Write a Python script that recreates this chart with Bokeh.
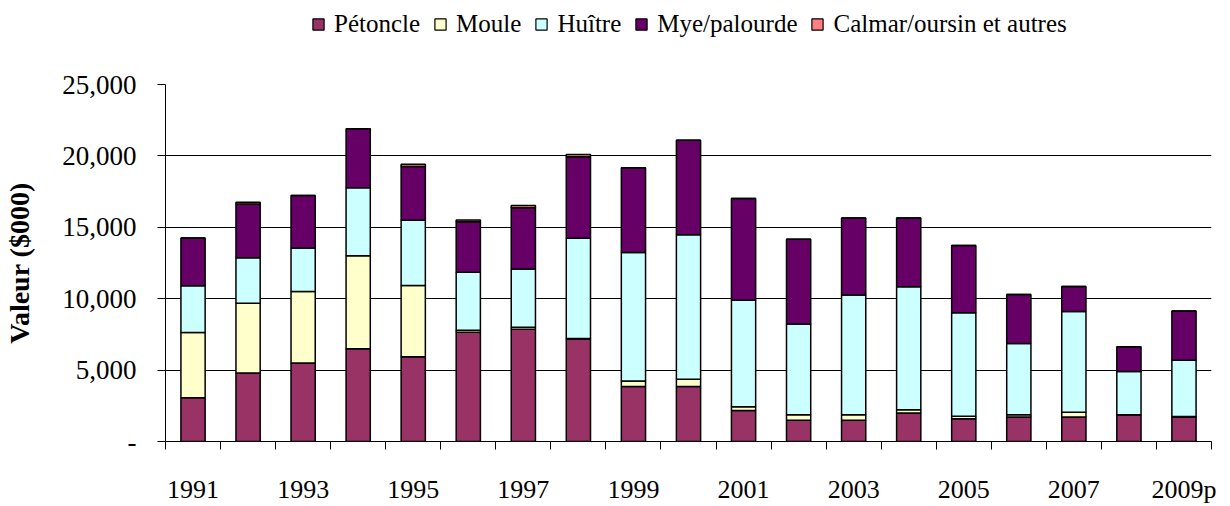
from bokeh.plotting import figure
from bokeh.layouts import column
from bokeh.models import ColumnDataSource, Legend, LegendItem, FixedTicker, NumeralTickFormatter, Range1d
from bokeh.embed import file_html
from bokeh.resources import INLINE

years = ["1991", "1992", "1993", "1994", "1995", "1996", "1997", "1998", "1999", "2000",
         "2001", "2002", "2003", "2004", "2005", "2006", "2007", "2008", "2009p"]
petoncle = [3070, 4790, 5490, 6500, 5940, 7650, 7860, 7180, 3860, 3860,
            2170, 1490, 1490, 1990, 1600, 1715, 1715, 1875, 1715]
moule = [4565, 4900, 5010, 6500, 4990, 140, 135, 30, 385, 500,
         270, 385, 385, 225, 160, 160, 340, 0, 30]
huitre = [3270, 3185, 3050, 4765, 4560, 4065, 4090, 7020, 8985, 10120,
          7450, 6345, 8380, 8625, 7250, 4990, 7045, 3025, 3945]
mye = [3340, 3750, 3680, 4130, 3770, 3525, 4290, 5710, 5940, 6615,
       7135, 5940, 5400, 4810, 4720, 3430, 1760, 1740, 3455]
calmar = [0, 135, 0, 0, 160, 135, 155, 160, 0, 0,
          0, 0, 0, 0, 0, 0, 0, 0, 0]

series = ["petoncle", "moule", "huitre", "mye", "calmar"]
labels = ["Pétoncle", "Moule", "Huître", "Mye/palourde", "Calmar/oursin et autres"]
colors = ["#993366", "#FFFFCC", "#CCFFFF", "#660066", "#FF8080"]
y_ticks = [0, 5000, 10000, 15000, 20000, 25000]

FONT = "Liberation Serif"
W = 1230
LEG_H = 64

xs = list(range(len(years)))
source = ColumnDataSource(dict(x=xs, petoncle=petoncle, moule=moule, huitre=huitre,
                               mye=mye, calmar=calmar))

# ---------- legend strip (its frame is aligned with the chart frame) ----------
pl = figure(width=W, height=LEG_H, output_backend="svg", toolbar_location=None,
            x_range=Range1d(-0.5, len(years) - 0.5), y_range=Range1d(0, 25000),
            x_axis_location=None, y_axis_location=None,
            min_border_left=0, min_border_right=0, min_border_top=0, min_border_bottom=0)
pl.grid.visible = False
pl.outline_line_color = None
leg_renderers = pl.vbar_stack(series, x="x", width=0.44, source=source,
                              fill_color=colors, line_color="black", line_width=1.2)
for r in leg_renderers:
    r.visible = False   # only their legend swatches are shown
items = [LegendItem(label=lab, renderers=[r]) for lab, r in zip(labels, leg_renderers)]
legend = Legend(items=items, orientation="horizontal", location=(146, 26),
                glyph_width=14, glyph_height=14, label_standoff=9, spacing=13,
                padding=0, margin=0, border_line_color=None, background_fill_alpha=0,
                inactive_fill_alpha=0,
                label_text_font=FONT, label_text_font_size="25px",
                label_text_color="black")
pl.add_layout(legend, "center")

# ---------- main chart ----------
p = figure(width=W, height=506 - LEG_H, output_backend="svg", toolbar_location=None,
           x_range=Range1d(-0.5, len(years) - 0.5), y_range=Range1d(0, 25000),
           min_border_left=165, min_border_right=19, min_border_top=20,
           min_border_bottom=54)
p.outline_line_color = None

p.vbar_stack(series, x="x", width=0.44, source=source,
             fill_color=colors, line_color="black", line_width=1.5)

# x axis: labels every other year at centres, ticks at category boundaries
p.xaxis.ticker = FixedTicker(ticks=xs[::2], minor_ticks=[i - 0.5 for i in range(len(years) + 1)])
p.xaxis.major_label_overrides = {i: years[i] for i in xs[::2]}
p.xaxis.major_tick_out = 0
p.xaxis.major_tick_in = 0
p.xaxis.minor_tick_out = 8
p.xaxis.minor_tick_in = 0
p.xaxis.minor_tick_line_color = "black"
p.xaxis.axis_line_color = "black"
p.xaxis.major_label_text_font = FONT
p.xaxis.major_label_text_font_size = "26px"
p.xaxis.major_label_text_color = "black"
p.xaxis.major_label_standoff = 25
p.xgrid.grid_line_color = None

# y axis
p.yaxis.ticker = FixedTicker(ticks=y_ticks, minor_ticks=[])
p.yaxis.formatter = NumeralTickFormatter(format="0,0")
p.yaxis.major_label_overrides = {0: "-"}
p.yaxis.major_tick_out = 8
p.yaxis.major_tick_in = 0
p.yaxis.major_tick_line_color = "black"
p.yaxis.axis_line_color = "black"
p.yaxis.major_label_text_font = FONT
p.yaxis.major_label_text_font_size = "27px"
p.yaxis.major_label_text_color = "black"
p.yaxis.major_label_standoff = 21
p.yaxis.axis_label = "Valeur ($000)"
p.yaxis.axis_label_text_font = FONT
p.yaxis.axis_label_text_font_size = "28px"
p.yaxis.axis_label_text_font_style = "bold"
p.yaxis.axis_label_text_color = "black"
p.yaxis.axis_label_standoff = 24
p.ygrid.grid_line_color = "black"
p.ygrid.grid_line_width = 1

layout = column(pl, p, spacing=0)
open("out.html", "w").write(file_html(layout, INLINE))
